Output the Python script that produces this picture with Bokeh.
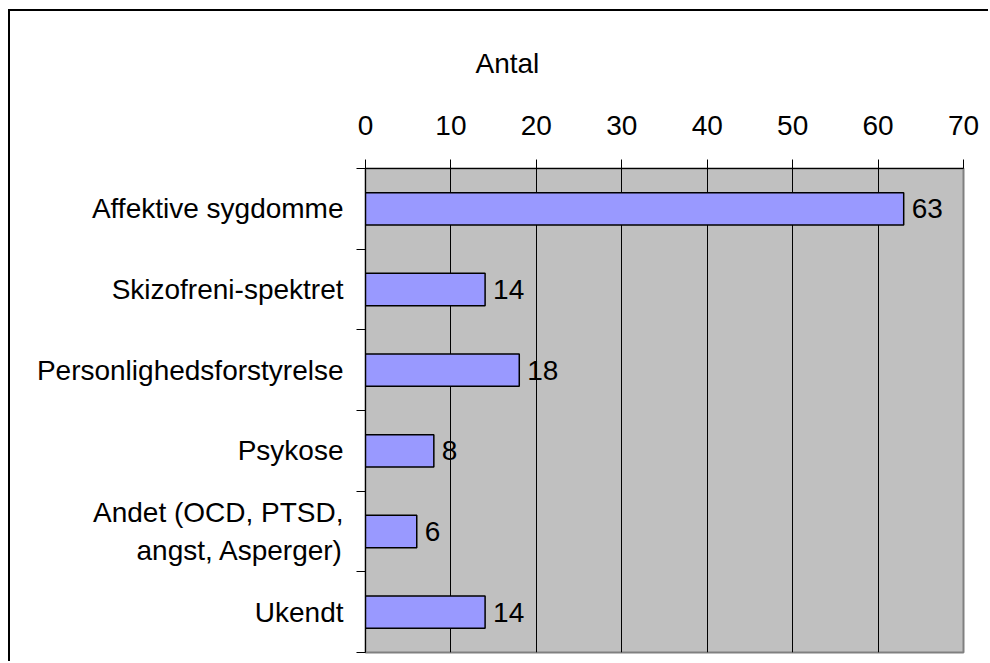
from bokeh.plotting import figure
from bokeh.models import FixedTicker, Range1d, ColumnDataSource
from bokeh.embed import file_html
from bokeh.resources import INLINE
from bokeh.core.properties import value

categories = ["Affektive sygdomme", "Skizofreni-spektret", "Personlighedsforstyrelse",
              "Psykose", "Andet (OCD, PTSD,\nangst, Asperger)", "Ukendt"]
counts = [63, 14, 18, 8, 6, 14]
x_ticks = [0, 10, 20, 30, 40, 50, 60, 70]
title_text = "Antal"

FONT = "Liberation Sans"
FS = "28px"

pos = [i + 0.5 for i in range(len(categories))]
bounds = list(range(len(categories) + 1))
src = ColumnDataSource(dict(y=pos, v=counts, lbl=[str(c) for c in counts]))

p = figure(width=980, height=652, x_range=Range1d(0, 70), y_range=Range1d(len(categories), 0),
           x_axis_location="above", output_backend="svg", toolbar_location=None,
           min_border_left=355, min_border_right=27, min_border_top=157, min_border_bottom=11)

p.background_fill_color = "#C0C0C0"
p.border_fill_color = "white"
p.outline_line_color = "#808080"
p.outline_line_width = 2
p.styles = {"margin-left": "8px", "margin-top": "9px",
            "border-left": "2px solid #000", "border-top": "2px solid #000"}

p.title.text = title_text
p.title.align = "left"
p.title.vertical_align = "top"
p.title.offset = 110
p.title.standoff = 64
p.title.text_font = FONT
p.title.text_font_size = FS
p.title.text_font_style = "normal"
p.title.text_color = "black"

p.hbar(y="y", right="v", left=0, height=0.4, fill_color="#9999FF", line_color="black",
       line_width=1.5, source=src)
p.text(x="v", y="y", text="lbl", x_offset=8, text_baseline="middle", text_align="left",
       text_font=value(FONT), text_font_size=FS, text_color="black", source=src)

# x axis (top)
xa = p.xaxis[0]
xa.ticker = FixedTicker(ticks=x_ticks)
xa.major_tick_out = 9
xa.major_tick_in = 0
xa.minor_tick_out = 0
xa.minor_tick_in = 0
xa.axis_line_color = "black"
xa.major_tick_line_color = "black"
xa.major_label_text_font = FONT
xa.major_label_text_font_size = FS
xa.major_label_text_color = "black"
xa.major_label_standoff = 25

# y axis (left)
ya = p.yaxis[0]
ya.ticker = FixedTicker(ticks=pos, minor_ticks=bounds)
ya.major_label_overrides = {pv: c for pv, c in zip(pos, categories)}
ya.major_tick_out = 0
ya.major_tick_in = 0
ya.minor_tick_out = 9
ya.minor_tick_in = 0
ya.minor_tick_line_color = "black"
ya.axis_line_color = "black"
ya.major_label_text_font = FONT
ya.major_label_text_font_size = FS
ya.major_label_text_color = "black"
ya.major_label_text_line_height = 1.25
ya.major_label_standoff = 13

p.xgrid.ticker = FixedTicker(ticks=x_ticks[1:-1])
p.xgrid.grid_line_color = "black"
p.xgrid.grid_line_width = 1
p.ygrid.visible = False

open("out.html", "w").write(file_html(p, INLINE))
